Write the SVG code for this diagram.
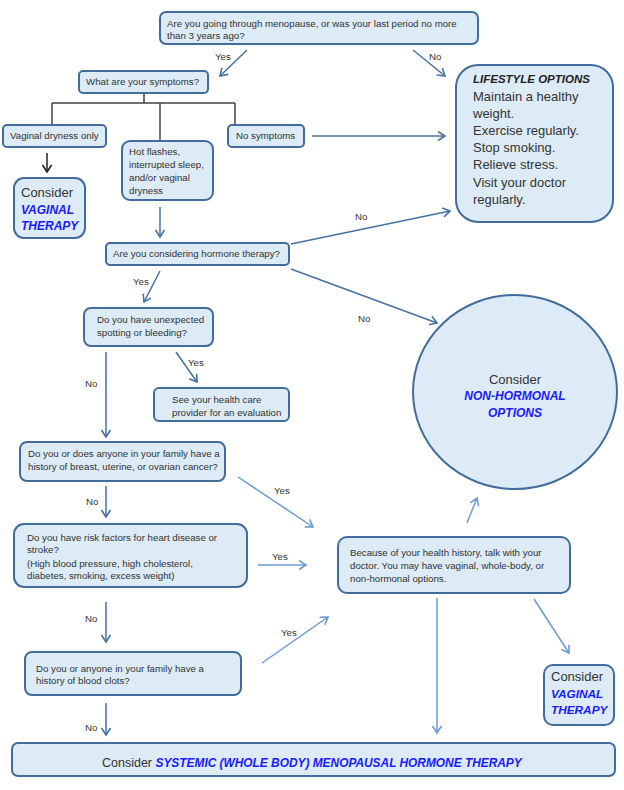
<svg xmlns="http://www.w3.org/2000/svg" width="624" height="790" viewBox="0 0 624 790">
<defs>
<marker id="ab" markerUnits="userSpaceOnUse" markerWidth="12" markerHeight="12" refX="8" refY="5" orient="auto"><path d="M1,0.5 L8,5 L1,9.5" fill="none" stroke="#46729f" stroke-width="1.6"/></marker>
<marker id="al" markerUnits="userSpaceOnUse" markerWidth="12" markerHeight="12" refX="8" refY="5" orient="auto"><path d="M1,0.5 L8,5 L1,9.5" fill="none" stroke="#6b9bd2" stroke-width="1.6"/></marker>
<marker id="ak" markerUnits="userSpaceOnUse" markerWidth="12" markerHeight="12" refX="8" refY="5" orient="auto"><path d="M1,0.5 L8,5 L1,9.5" fill="none" stroke="#222" stroke-width="1.6"/></marker>
</defs>
<style>
.bx{fill:#dcebf5;stroke:#416c9b;stroke-width:2}
.t{font-family:"Liberation Sans",Arial,sans-serif;font-size:9.7px;fill:#333}
.m{font-family:"Liberation Sans",Arial,sans-serif;font-size:13px;fill:#333}
.bi{font-family:"Liberation Sans",Arial,sans-serif;font-weight:bold;font-style:italic;fill:#1a1aff}
.lb{font-family:"Liberation Sans",Arial,sans-serif;font-size:9.7px;fill:#333}
.c{fill:none;stroke:#46729f;stroke-width:1.5}
.cl{fill:none;stroke:#6b9bd2;stroke-width:1.5}
.tr{fill:none;stroke:#444;stroke-width:1.5}
</style>
<rect width="624" height="790" fill="#fff"/>

<g id="connectors">
<path class="tr" d="M144,93 V103 M52,103 H235 M52,103 V125 M160,103 V141 M235,103 V125"/>
<path class="c" d="M247,50 L220,76" marker-end="url(#ab)"/>
<path class="c" d="M413,50 L445,76" marker-end="url(#ab)"/>
<path fill="none" stroke="#222" stroke-width="1.5" d="M47,153 V172" marker-end="url(#ak)"/>
<path class="c" d="M160,207 V237" marker-end="url(#ab)"/>
<path class="c" d="M312,136 H445" marker-end="url(#ab)"/>
<path class="c" d="M291,244 L450,211" marker-end="url(#ab)"/>
<path class="c" d="M291,269 L437,323" marker-end="url(#ab)"/>
<path class="c" d="M160,271 L144,302" marker-end="url(#ab)"/>
<path class="c" d="M176,352 L197,382" marker-end="url(#ab)"/>
<path class="c" d="M106,352 V437" marker-end="url(#ab)"/>
<path class="cl" d="M238,477 L313,527" marker-end="url(#al)"/>
<path class="c" d="M106,486 V517" marker-end="url(#ab)"/>
<path class="cl" d="M258,565 H306" marker-end="url(#al)"/>
<path class="cl" d="M467,523 L477,498" marker-end="url(#al)"/>
<path class="c" d="M106,602 V642" marker-end="url(#ab)"/>
<path class="cl" d="M262,663 L328,617" marker-end="url(#al)"/>
<path class="c" d="M106,703 V735" marker-end="url(#ab)"/>
<path class="cl" d="M437,598 V733" marker-end="url(#al)"/>
<path class="cl" d="M534,599 L569,653" marker-end="url(#al)"/>
<text class="lb" x="215" y="60">Yes</text>
<text class="lb" x="429" y="60">No</text>
<text class="lb" x="355" y="220">No</text>
<text class="lb" x="358" y="322">No</text>
<text class="lb" x="133" y="285">Yes</text>
<text class="lb" x="188" y="366">Yes</text>
<text class="lb" x="85" y="387">No</text>
<text class="lb" x="274" y="494">Yes</text>
<text class="lb" x="86" y="505">No</text>
<text class="lb" x="272" y="560">Yes</text>
<text class="lb" x="281" y="636">Yes</text>
<text class="lb" x="85" y="622">No</text>
<text class="lb" x="85" y="731">No</text>
</g>

<g id="q-menopause">
<rect class="bx" x="160" y="12" width="318" height="32" rx="6"/>
<text class="t" x="167" y="27" font-size="9.9">Are you going through menopause, or was your last period no more</text>
<text class="t" x="167" y="39" font-size="9.9">than 3 years ago?</text>
</g>

<g id="q-symptoms">
<rect class="bx" x="79" y="71" width="129" height="22" rx="4"/>
<text class="t" x="86" y="85">What are your symptoms?</text>
</g>

<g id="vaginal-dryness">
<rect class="bx" x="3" y="125" width="103" height="22" rx="4"/>
<text class="t" x="10" y="139">Vaginal dryness only</text>
</g>

<g id="hot-flashes">
<rect class="bx" x="122" y="141" width="91" height="59" rx="8"/>
<text class="t" x="129" y="155">Hot flashes,</text>
<text class="t" x="129" y="168">interrupted sleep,</text>
<text class="t" x="129" y="181">and/or vaginal</text>
<text class="t" x="129" y="194">dryness</text>
</g>

<g id="no-symptoms">
<rect class="bx" x="228" y="125" width="76" height="22" rx="4"/>
<text class="t" x="236" y="139">No symptoms</text>
</g>

<g id="vaginal-left">
<rect class="bx" x="14" y="178" width="71" height="60" rx="10"/>
<text class="m" x="21" y="197">Consider</text>
<text class="bi" x="21" y="214" font-size="12">VAGINAL</text>
<text class="bi" x="21" y="230" font-size="12">THERAPY</text>
</g>

<g id="lifestyle">
<rect class="bx" x="456" y="65" width="157" height="157" rx="22"/>
<text x="473" y="83" font-family="Liberation Sans, Arial, sans-serif" font-size="11.5" font-weight="bold" font-style="italic" fill="#222">LIFESTYLE OPTIONS</text>
<text class="m" x="473" y="101">Maintain a healthy</text>
<text class="m" x="473" y="118">weight.</text>
<text class="m" x="473" y="135">Exercise regularly.</text>
<text class="m" x="473" y="152">Stop smoking.</text>
<text class="m" x="473" y="169">Relieve stress.</text>
<text class="m" x="473" y="187">Visit your doctor</text>
<text class="m" x="473" y="204">regularly.</text>
</g>

<g id="q-hormone">
<rect class="bx" x="106" y="243" width="183" height="22" rx="4"/>
<text class="t" x="113" y="257">Are you considering hormone therapy?</text>
</g>

<g id="non-hormonal">
<ellipse class="bx" cx="515" cy="392" rx="102" ry="97"/>
<text class="m" x="515" y="384" text-anchor="middle" font-size="12.5">Consider</text>
<text class="bi" x="515" y="400" text-anchor="middle" font-size="12">NON-HORMONAL</text>
<text class="bi" x="515" y="417" text-anchor="middle" font-size="12">OPTIONS</text>
</g>

<g id="q-spotting">
<rect class="bx" x="84" y="308" width="129" height="38" rx="7"/>
<text class="t" x="97" y="323">Do you have unexpected</text>
<text class="t" x="97" y="336">spotting or bleeding?</text>
</g>

<g id="see-provider">
<rect class="bx" x="154" y="388" width="135" height="33" rx="5"/>
<text class="t" x="172" y="403">See your health care</text>
<text class="t" x="172" y="416">provider for an evaluation</text>
</g>

<g id="q-cancer">
<rect class="bx" x="20" y="442" width="205" height="39" rx="7"/>
<text class="t" x="28" y="457" font-size="9.9">Do you or does anyone in your family have a</text>
<text class="t" x="28" y="470" font-size="9.9">history of breast, uterine, or ovarian cancer?</text>
</g>

<g id="q-heart">
<rect class="bx" x="14" y="524" width="233" height="63" rx="10"/>
<text class="t" x="27" y="541">Do you have risk factors for heart disease or</text>
<text class="t" x="27" y="553">stroke?</text>
<text class="t" x="27" y="567">(High blood pressure, high cholesterol,</text>
<text class="t" x="27" y="579">diabetes, smoking, excess weight)</text>
</g>

<g id="talk-doctor">
<rect class="bx" x="338" y="537" width="232" height="56" rx="9"/>
<text class="t" x="350" y="556">Because of your health history, talk with your</text>
<text class="t" x="350" y="569">doctor. You may have vaginal, whole-body, or</text>
<text class="t" x="350" y="582">non-hormonal options.</text>
</g>

<g id="q-clots">
<rect class="bx" x="25" y="652" width="216" height="43" rx="7"/>
<text class="t" x="36" y="672">Do you or anyone in your family have a</text>
<text class="t" x="36" y="684">history of blood clots?</text>
</g>

<g id="vaginal-right">
<rect class="bx" x="544" y="665" width="70" height="60" rx="9"/>
<text class="m" x="551" y="681" font-size="12.3">Consider</text>
<text class="bi" x="551" y="698" font-size="11.8">VAGINAL</text>
<text class="bi" x="551" y="714" font-size="11.8">THERAPY</text>
</g>

<g id="systemic">
<rect class="bx" x="12" y="743" width="603" height="33" rx="6"/>
<text x="102" y="767" font-family="Liberation Sans, Arial, sans-serif" font-size="12.5" fill="#333">Consider <tspan font-weight="bold" font-style="italic" fill="#1a1aff" font-size="11.9">SYSTEMIC (WHOLE BODY) MENOPAUSAL HORMONE THERAPY</tspan></text>
</g>
</svg>
